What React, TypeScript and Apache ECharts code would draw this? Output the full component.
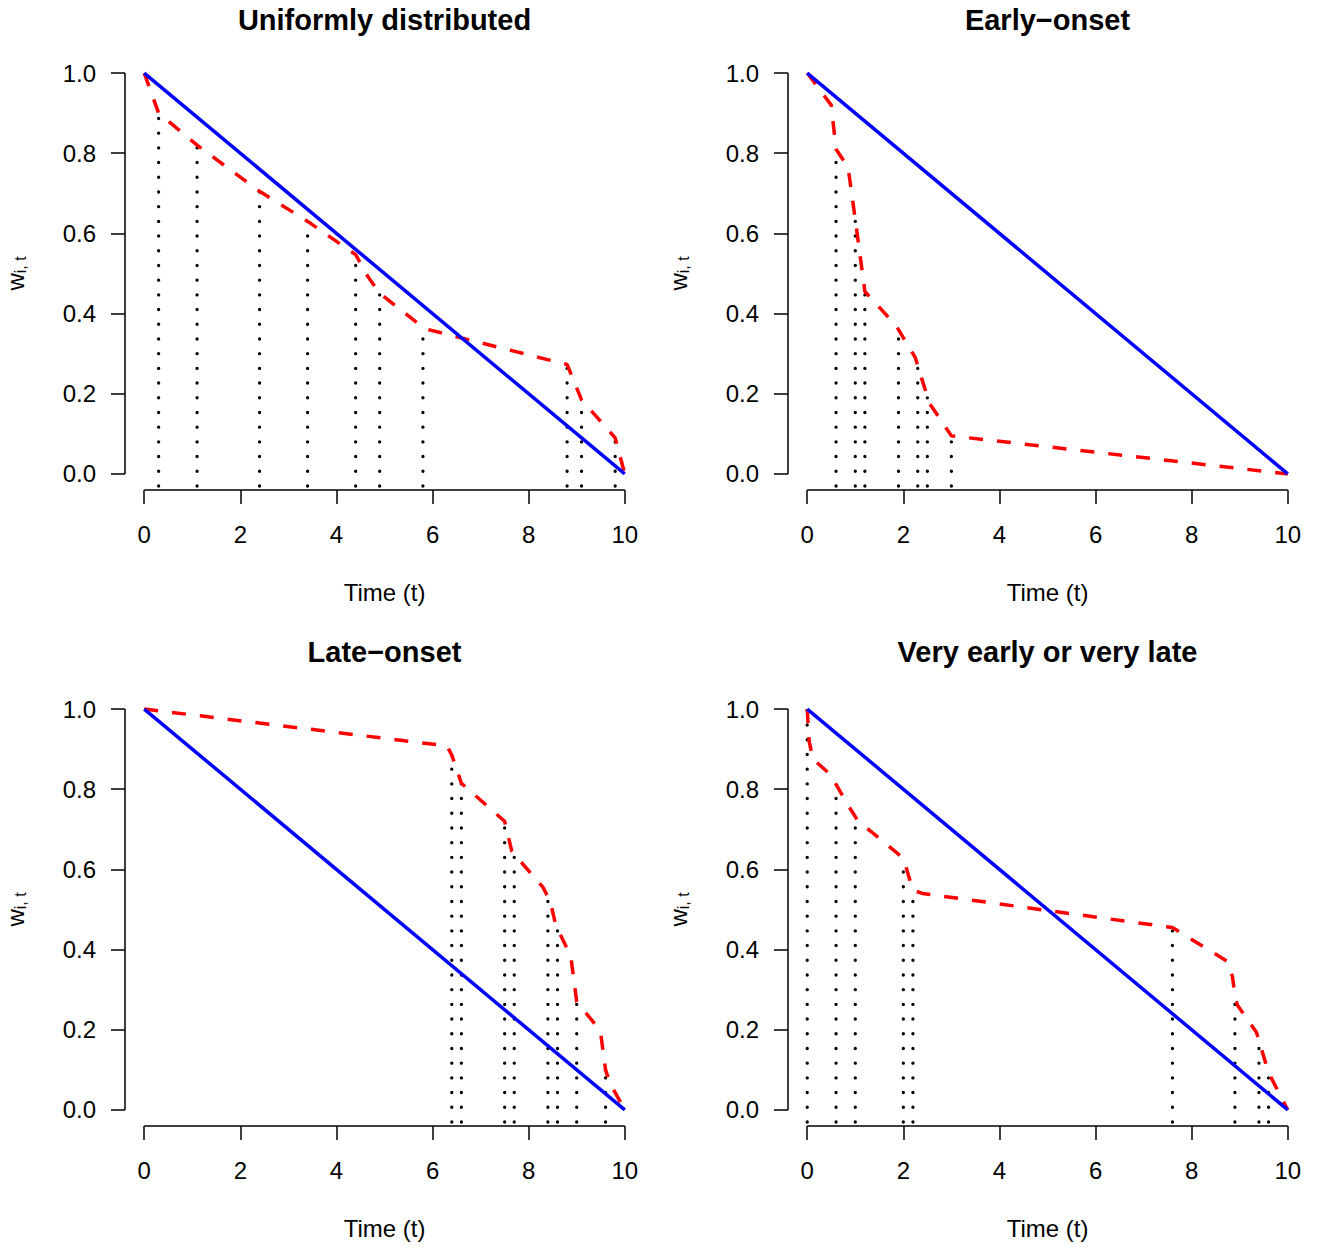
import React, { useEffect, useRef } from "react";
import * as echarts from "echarts";

// ---- axes ----
const X_TICKS = [0, 2, 4, 6, 8, 10];
const Y_TICKS = [0, 0.2, 0.4, 0.6, 0.8, 1.0];
const X_RANGE = [-0.4, 10.4];
const Y_RANGE = [-0.04, 1.04];
const DOT_BASE = -0.03;

const TITLES = ["Uniformly distributed", "Early\u2212onset", "Late\u2212onset", "Very early or very late"];
const X_NAME = "Time (t)";

// ---- reference (blue) line ----
const blueT = [0, 10];
const blueW = [1, 0];

// ---- Uniformly distributed ----
const uniRedT = [0, 0.3, 0.9, 1.1, 2.4, 3.4, 4.4, 4.65, 4.9, 5.7, 5.85, 8.8, 9.1, 9.8, 10];
const uniRedW = [1, 0.9, 0.84, 0.82, 0.705, 0.63, 0.547, 0.493, 0.451, 0.375, 0.362, 0.273, 0.185, 0.09, 0];
const uniEventT = [0.3, 1.1, 2.4, 3.4, 4.4, 4.9, 5.8, 8.8, 9.1, 9.8];
const uniEventW = [0.9, 0.82, 0.705, 0.63, 0.547, 0.451, 0.365, 0.273, 0.185, 0.09];

// ---- Early-onset ----
const earlyRedT = [0, 0.5, 0.6, 0.85, 1.0, 1.2, 1.85, 2.25, 2.35, 2.55, 3.0, 10];
const earlyRedW = [1, 0.92, 0.81, 0.765, 0.635, 0.455, 0.37, 0.29, 0.25, 0.175, 0.095, 0];
const earlyEventT = [0.6, 1.0, 1.2, 1.9, 2.3, 2.5, 3.0];
const earlyEventW = [0.81, 0.635, 0.455, 0.36, 0.27, 0.19, 0.095];

// ---- Late-onset ----
const lateRedT = [0, 6.3, 6.4, 6.6, 7.5, 7.65, 8.3, 8.45, 8.55, 8.6, 8.85, 8.88, 9.0, 9.45, 9.5, 9.6, 9.7, 10];
const lateRedW = [1, 0.908, 0.885, 0.815, 0.72, 0.645, 0.555, 0.52, 0.468, 0.452, 0.39, 0.38, 0.27, 0.204, 0.19, 0.1, 0.065, 0];
const lateEventT = [6.4, 6.6, 7.5, 7.7, 8.4, 8.6, 9.0, 9.6];
const lateEventW = [0.885, 0.815, 0.72, 0.635, 0.533, 0.452, 0.27, 0.1];

// ---- Very early or very late ----
const bothRedT = [0, 0.04, 0.12, 0.5, 0.6, 0.85, 1.05, 2.0, 2.2, 2.4, 7.6, 8.75, 8.85, 8.9, 8.95, 9.35, 9.6, 10];
const bothRedW = [1, 0.92, 0.875, 0.835, 0.812, 0.76, 0.722, 0.628, 0.548, 0.54, 0.455, 0.37, 0.332, 0.285, 0.262, 0.193, 0.093, 0];
const bothEventT = [0, 0.6, 1.0, 2.0, 2.2, 7.6, 8.9, 9.4, 9.6];
const bothEventW = [1, 0.812, 0.73, 0.628, 0.548, 0.455, 0.285, 0.175, 0.093];

const PANELS = [
  { redT: uniRedT, redW: uniRedW, evT: uniEventT, evW: uniEventW },
  { redT: earlyRedT, redW: earlyRedW, evT: earlyEventT, evW: earlyEventW },
  { redT: lateRedT, redW: lateRedW, evT: lateEventT, evW: lateEventW },
  { redT: bothRedT, redW: bothRedW, evT: bothEventT, evW: bothEventW },
];

const FONT = "'Liberation Sans', Arial, Helvetica, sans-serif";
const GRID_LEFT = [125, 788];
const GRID_TOP = [57, 693];
const TITLE_Y = [20, 652];
const GRID_W = 519;
const GRID_H = 433;

function zip(a: number[], b: number[]) {
  return a.map((v, i) => [v, b[i]]);
}

function buildOption() {
  const grid: any[] = [];
  const xAxis: any[] = [];
  const yAxis: any[] = [];
  const series: any[] = [];
  const graphic: any[] = [];

  PANELS.forEach((p, i) => {
    const left = GRID_LEFT[i % 2];
    const row = Math.floor(i / 2);
    const top = GRID_TOP[row];
    grid.push({ left, top, width: GRID_W, height: GRID_H, containLabel: false, outerBoundsMode: "none" });
    xAxis.push({
      type: "value",
      gridIndex: i,
      min: X_RANGE[0],
      max: X_RANGE[1],
      splitLine: { show: false },
      axisLine: { show: false, onZero: false },
      axisTick: { show: true, inside: false, customValues: X_TICKS, length: 14, lineStyle: { color: "#000", width: 1.5 } },
      axisLabel: {
        customValues: X_TICKS,
        margin: 32,
        fontSize: 24,
        color: "#000",
        fontFamily: FONT,
        formatter: (v: number) => String(v),
      },
      name: X_NAME,
      nameLocation: "middle",
      nameGap: 90,
      nameTextStyle: { fontSize: 24, color: "#000", fontFamily: FONT },
    });
    yAxis.push({
      type: "value",
      gridIndex: i,
      min: Y_RANGE[0],
      max: Y_RANGE[1],
      splitLine: { show: false },
      axisLine: { show: false, onZero: false },
      axisTick: { show: true, inside: false, customValues: Y_TICKS, length: 14, lineStyle: { color: "#000", width: 1.5 } },
      axisLabel: {
        customValues: Y_TICKS,
        margin: 29,
        fontSize: 24,
        color: "#000",
        fontFamily: FONT,
        formatter: (v: number) => v.toFixed(1),
      },
      name: "{w|w}{s|i, t}",
      nameLocation: "middle",
      nameRotate: 90,
      nameGap: 97,
      nameTextStyle: {
        color: "#000",
        fontFamily: FONT,
        rich: {
          w: { fontSize: 24, color: "#000", fontFamily: FONT },
          s: { fontSize: 16, color: "#000", fontFamily: FONT, padding: [10, 0, 0, 0] },
        },
      },
    });

    // R-style axis lines (span first..last tick, at the plot-region edge)
    series.push({
      type: "line",
      xAxisIndex: i,
      yAxisIndex: i,
      data: [[X_RANGE[0], Y_TICKS[0]], [X_RANGE[0], Y_TICKS[Y_TICKS.length - 1]]],
      symbol: "none",
      clip: false,
      silent: true,
      lineStyle: { color: "#000", width: 1.5 },
    });
    series.push({
      type: "line",
      xAxisIndex: i,
      yAxisIndex: i,
      data: [[X_TICKS[0], Y_RANGE[0]], [X_TICKS[X_TICKS.length - 1], Y_RANGE[0]]],
      symbol: "none",
      clip: false,
      silent: true,
      lineStyle: { color: "#000", width: 1.5 },
    });

    // dotted event lines
    p.evT.forEach((t, k) => {
      series.push({
        type: "line",
        xAxisIndex: i,
        yAxisIndex: i,
        data: [[t, DOT_BASE], [t, p.evW[k]]],
        symbol: "none",
        silent: true,
        clip: false,
        lineStyle: { color: "#000", width: 3.3, type: [0.1, 14.6], cap: "round" },
      });
    });

    // red dashed
    series.push({
      type: "line",
      xAxisIndex: i,
      yAxisIndex: i,
      data: zip(p.redT, p.redW),
      symbol: "none",
      silent: true,
      clip: false,
      lineStyle: { color: "#FF0000", width: 3.5, type: [14, 14] },
    });

    // blue solid
    series.push({
      type: "line",
      xAxisIndex: i,
      yAxisIndex: i,
      data: zip(blueT, blueW),
      symbol: "none",
      silent: true,
      clip: false,
      lineStyle: { color: "#0000FF", width: 3.5 },
    });

    graphic.push({
      type: "text",
      x: left + GRID_W / 2,
      y: TITLE_Y[row],
      style: {
        text: TITLES[i],
        align: "center",
        verticalAlign: "middle",
        fontSize: 29,
        fontWeight: "bold",
        fontFamily: FONT,
        fill: "#000",
      },
    });
  });

  return { animation: false, backgroundColor: "#fff", grid, xAxis, yAxis, series, graphic };
}

export default function App() {
  const ref = useRef<HTMLDivElement>(null);
  useEffect(() => {
    if (!ref.current) return;
    const chart = echarts.init(ref.current, undefined, { renderer: "svg" });
    chart.setOption(buildOption() as any);
    return () => chart.dispose();
  }, []);
  return (
    <div
      ref={ref}
      style={{ position: "absolute", left: 0, top: 0, width: 1322, height: 1247, background: "#fff" }}
    />
  );
}
